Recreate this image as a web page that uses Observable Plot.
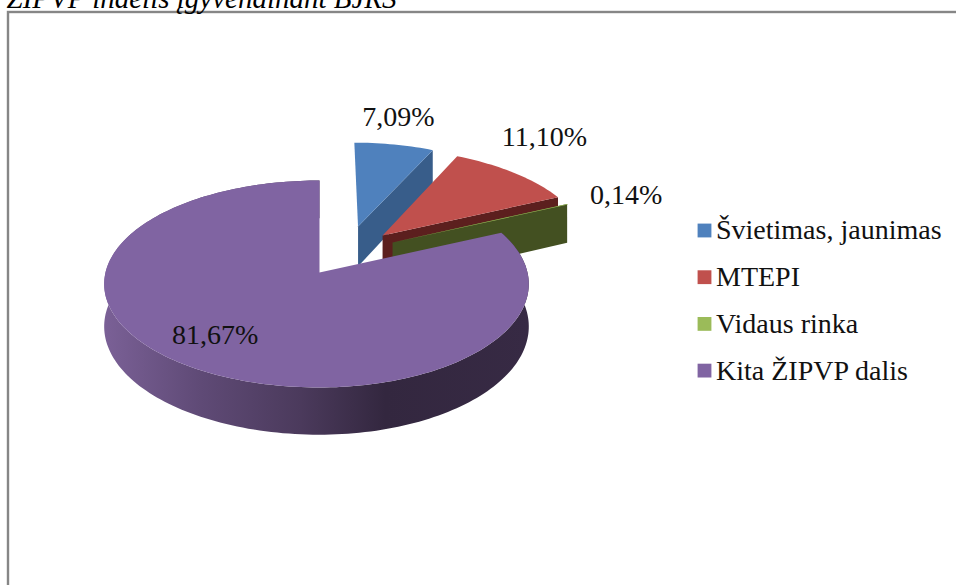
<!DOCTYPE html>
<html><head><meta charset="utf-8">
<script src="https://cdn.jsdelivr.net/npm/d3@7"></script>
<script src="https://cdn.jsdelivr.net/npm/@observablehq/plot@0.6"></script>
<style>html,body{margin:0;padding:0;background:#fff}svg{display:block}</style>
</head><body><div id="chart"></div>
<script>
const categories = ["Švietimas, jaunimas", "MTEPI", "Vidaus rinka", "Kita ŽIPVP dalis"];
const shares = [7.09, 11.10, 0.14, 81.67];
const shareLabels = ["7,09%", "11,10%", "0,14%", "81,67%"];
const topColors = ["#4f81bd", "#c0504d", "#9bbb59", "#8064a2"];
const wallColors = ["#385d8a", "#5c1f1e", "#435021"];
const titleText = "ŽIPVP indėlis įgyvendinant BJRS";

// slice explosion on the pie's ground plane, and the 3D view of that plane
const explode = [[0.195, 0.474], [0.316, 0.377], [0.363, 0.304], [0, 0]];
const sliceRadius = [1.005, 1.025, 1.015, 1];
const view = {x0: 319, y0: 272, left: 214, right: 208, depth: 102.2, persp: 0.111, wall: 42};
const project = (a, b) => {
  const w = 1 + view.persp * b;
  return [view.x0 + (a < 0 ? view.left : view.right) * a / w, view.y0 - view.depth * b / w];
};
const up = ([a, b]) => project(a, b);
const down = ([a, b]) => { const [x, y] = project(a, b); return [x, y + view.wall / (1 + view.persp * b)]; };

const W = 956, H = 585;
const total = d3.sum(shares);
let acc = 0;
const slices = shares.map((v, i) => {
  const start = acc / total * 2 * Math.PI;
  acc += v;
  return {i, start, end: acc / total * 2 * Math.PI, off: explode[i], r: sliceRadius[i]};
});
const rim = (s, t) => [s.off[0] + s.r * Math.sin(t), s.off[1] + s.r * Math.cos(t)];
const arcPoints = s => {
  const n = Math.max(2, Math.ceil((s.end - s.start) * 40));
  return d3.range(n + 1).map(k => rim(s, s.start + (s.end - s.start) * k / n));
};

const polys = [];
const addPoly = (pts, fill) => {
  const id = polys.length ? polys[polys.length - 1].id + 1 : 0;
  pts.forEach(p => polys.push({id, x: p[0], y: p[1], fill}));
};

// the three pulled-out slices, back to front: cut face, then top
slices.slice(0, 3).forEach(s => {
  const pt = rim(s, s.i === 2 ? s.start : s.end);
  addPoly([up(s.off), up(pt), down(pt), down(s.off)], wallColors[s.i]);
  addPoly([up(s.off), ...arcPoints(s).map(up)], topColors[s.i]);
});
// the big slice: shaded outer wall, then top
const purple = slices[3];
const purpleArc = arcPoints(purple);
addPoly([...purpleArc.map(up), ...purpleArc.slice().reverse().map(down)], "url(#purpleWall)");
addPoly([up(purple.off), ...purpleArc.map(up)], topColors[3]);

const wallStops = [[105, "#7a6096"], [200, "#5f4a76"], [300, "#4b3a5c"], [385, "#33273f"], [528, "#372a44"]];
const wallGradient = () => {
  const defs = d3.create("svg:defs");
  const g = defs.append("linearGradient").attr("id", "purpleWall")
    .attr("gradientUnits", "userSpaceOnUse")
    .attr("x1", wallStops[0][0]).attr("x2", wallStops[wallStops.length - 1][0]).attr("y1", 0).attr("y2", 0);
  wallStops.forEach(([x, c]) => g.append("stop")
    .attr("offset", (x - wallStops[0][0]) / (wallStops[wallStops.length - 1][0] - wallStops[0][0]))
    .attr("stop-color", c));
  return defs.node();
};

// labels sit on a ray from each slice's own corner
const labelRay = [1.39, 1.5, 1.52, 0.73];
const labelNudge = [[-8, 0], [-24, -9], [-23, 9], [-13, -5]];
const labelData = slices.map(s => {
  const mid = (s.start + s.end) / 2;
  const ray = labelRay[s.i];
  const [x, y] = project(s.off[0] + ray * Math.sin(mid), s.off[1] + ray * Math.cos(mid));
  return {x: x + labelNudge[s.i][0], y: y + labelNudge[s.i][1], t: shareLabels[s.i]};
});

const legendStep = 46.7, legendTop = 230, legendX = 704;
const legendData = categories.map((c, i) => ({c, i, x: legendX, y: legendTop + i * legendStep}));

const font = "Liberation Serif";
const plot = Plot.plot({
  width: W, height: H, margin: 0,
  x: {domain: [0, W], range: [0, W], axis: null},
  y: {domain: [0, H], range: [0, H], axis: null},
  style: {background: "#fff", fontFamily: font, overflow: "hidden"},
  marks: [
    wallGradient,
    Plot.frame({stroke: "#868686", strokeWidth: 2.4, insetLeft: 7.5, insetTop: 11.5, insetRight: -10, insetBottom: -10}),
    Plot.text([titleText], {frameAnchor: "top-left", lineAnchor: "bottom", dx: 6, dy: 7, fontSize: 29, fontStyle: "italic", fill: "#000"}),
    Plot.line(polys, {x: "x", y: "y", z: "id", fill: "fill", stroke: "none"}),
    Plot.text(labelData, {x: "x", y: "y", text: "t", fontSize: 28, fill: "#111", textAnchor: "middle"}),
    Plot.dot(legendData, {x: "x", y: "y", symbol: "square", r: 7.8, fill: d => topColors[d.i], stroke: "none"}),
    Plot.text(legendData, {x: "x", y: "y", text: "c", fontSize: 28, fill: "#111", textAnchor: "start", dx: 11.5})
  ]
});
document.getElementById("chart").append(plot);
</script></body></html>
